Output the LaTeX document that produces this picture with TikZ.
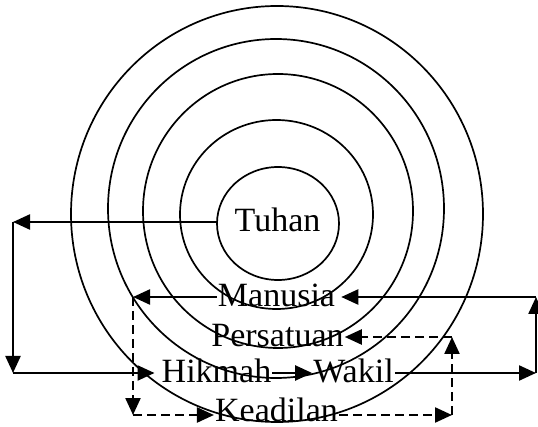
\documentclass[tikz,border=0pt]{standalone}
\usepackage{fontspec}
\setmainfont{Liberation Serif}
\usetikzlibrary{arrows.meta}
\begin{document}
\begin{tikzpicture}[x=1pt,y=-1pt,
  ring/.style={line width=1.7pt},
  lbl/.style={inner xsep=1pt,inner ysep=0pt,text height=20pt,text depth=0pt,anchor=center,font=\fontsize{34}{40}\selectfont},
  arr/.style={line width=2.3pt,-{Triangle[length=17pt,width=15pt]}},
  dsh/.style={dash pattern=on 9pt off 5pt}]
\useasboundingbox (0,0) rectangle (538,427);
% rings
\draw[ring] (278,223.5) ellipse [x radius=61pt, y radius=56.5pt];
\draw[ring] (276.5,214.5) ellipse [x radius=96.5pt, y radius=94.5pt];
\draw[ring] (278,211) ellipse [x radius=135pt, y radius=137pt];
\draw[ring] (276,208.5) ellipse [x radius=168pt, y radius=169.5pt];
\draw[ring] (277,214) ellipse [x radius=206pt, y radius=208pt];
% labels
\node[lbl] (Tuhan) at (277.5,222) {Tuhan};
\node[lbl] (Manusia) at (276.5,297) {Manusia};
\node[lbl] (Persatuan) at (277.5,337) {Persatuan};
\node[lbl] (Hikmah) at (216.5,373) {Hikmah};
\node[lbl] (Wakil) at (353.5,373) {Wakil};
\node[lbl,text height=12pt] (Keadilan) at (276.5,415) {Keadilan};
% corner points
\coordinate (t0) at (217,222);
\coordinate (tl) at (13,222);
\coordinate (bl) at (13,373);
\coordinate (br) at (536,373);
\coordinate (tr) at (536,297);
\coordinate (ml) at (133,297);
\coordinate (kl) at (133,415);
\coordinate (kr) at (452,415);
\coordinate (pr) at (452,337);
% connectors
\draw[arr] (t0) -- (tl);
\draw[arr] (tl) -- (bl);
\draw[arr,shorten >=6pt] (bl) -- (Hikmah.west);
\draw[arr] (Hikmah.east) -- (Wakil.west);
\draw[arr] (Wakil.east) -- (br);
\draw[arr] (br) -- (tr);
\draw[arr,shorten >=5pt] (tr) -- (Manusia.east);
\draw[arr] (Manusia.west) -- (ml);
\draw[arr,dsh] (ml) -- (kl);
\draw[arr,dsh] (kl) -- (Keadilan.west);
\draw[arr,dsh] (Keadilan.east) -- (kr);
\draw[arr,dsh] (kr) -- (pr);
\draw[arr,dsh] (pr) -- (Persatuan.east);
\end{tikzpicture}
\end{document}
